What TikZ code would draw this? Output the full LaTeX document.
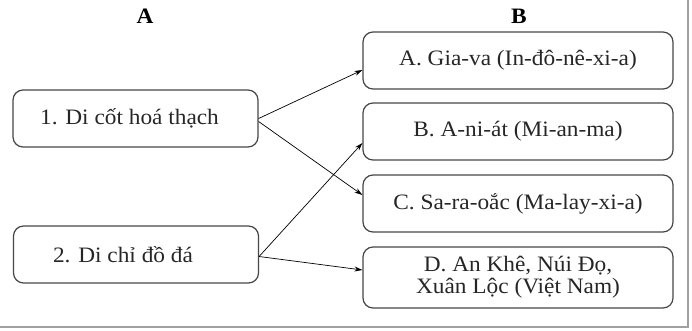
\documentclass[tikz,border=0pt]{standalone}
\usepackage{fontspec}
\setmainfont{Liberation Serif}[FakeStretch=1.06]
\usetikzlibrary{arrows.meta,positioning,calc}
\definecolor{boxgray}{RGB}{70,70,70}
\definecolor{framegray}{RGB}{160,160,160}

\begin{document}
\begin{tikzpicture}[x=1pt, y=-1pt,
    box/.style={rectangle, rounded corners=10pt, draw=boxgray, line width=1.2pt, inner sep=0pt, align=center,
        font=\fontsize{22pt}{22pt}\selectfont, text=black!85},
    lbox/.style={box, minimum width=245pt, minimum height=57pt},
    rbox/.style={box, minimum width=310pt, minimum height=57pt},
    head/.style={font=\fontsize{22pt}{22pt}\selectfont\bfseries},
    arrow/.style={-{Stealth[length=8pt,width=5pt]}, line width=0.7pt}
]
    \useasboundingbox (0,0) rectangle (692,330);

    % column titles
    \node[head] (ha) at (145,16) {A};
    \node[head] (hb) at (519,16) {B};

    % column A
    \node[lbox] (dicot) at (135.5,118.5) {1. Di cốt hoá thạch\hspace*{12pt}};
    \node[lbox] (dichi) at (136,254.5) {2. Di chỉ đồ đá\hspace*{26pt}};

    % column B
    \node[rbox] (giava) at (518,60.5) {A. Gia-va (In-đô-nê-xi-a)};
    \node[rbox] (aniat) at (518,131.5) {B. A-ni-át (Mi-an-ma)};
    \node[rbox] (saraoac) at (518,203.5) {C. Sa-ra-oắc (Ma-lay-xi-a)};
    \node[rbox, minimum height=61pt] (ankhe) at (518,277.5) {D. An Khê, Núi Đọ,\\Xuân Lộc (Việt Nam)};

    \draw[arrow] (dicot.east) -- ([yshift=-9.5pt]giava.west);
    \draw[arrow] ([yshift=-3pt]dicot.east) -- ([yshift=8.5pt]saraoac.west);
    \draw[arrow] ([yshift=-2pt]dichi.east) -- ([yshift=-11.5pt]aniat.west);
    \draw[arrow] ([yshift=-2pt]dichi.east) -- ([yshift=7.5pt]ankhe.west);

    % frame edges
    \draw[framegray, line width=1.5pt] (688,0) -- (688,327) -- (0,327);
\end{tikzpicture}
\end{document}
